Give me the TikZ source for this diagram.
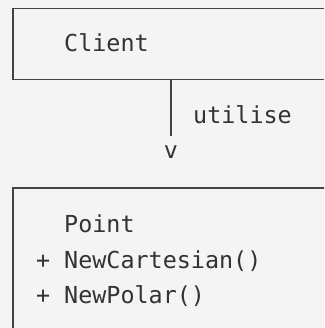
\documentclass[tikz,border=0pt]{standalone}
\usepackage{fontspec}
\setmonofont{DejaVu Sans Mono}
\definecolor{bg}{HTML}{F4F4F4}
\definecolor{ink}{HTML}{333333}
\definecolor{edge}{HTML}{444444}
\begin{document}
\begin{tikzpicture}[x=1pt,y=-1pt,
  umlbox/.style={draw=edge,line width=1.5pt,fill=bg,anchor=north west,inner sep=0pt,minimum width=340pt},
  mono/.style={font=\ttfamily\fontsize{23.4}{28}\selectfont,text=ink,inner sep=0pt,anchor=base west},
  link/.style={draw=edge,line width=1.5pt}]
  \clip (0,0) rectangle (324,328);
  \fill[bg] (0,0) rectangle (324,328);
  % class boxes (open to the right and below)
  \node[umlbox,minimum height=71pt] (client) at (12,8) {};
  \node[umlbox,minimum height=160pt] (point) at (12,187) {};
  % class names and operations
  \node[mono] (clientname) at (64,52) {Client};
  \node[mono] (pointname) at (64,232) {Point};
  \node[mono] (plus1) at (36,268) {+};
  \node[mono] (op1) at (64,268) {NewCartesian()};
  \node[mono] (plus2) at (36,303) {+};
  \node[mono] (op2) at (64,303) {NewPolar()};
  % dependency drawn as a plain line ending in a text "v"
  \coordinate (linkend) at (171,136);
  \draw[link] (client.south -| linkend) -- (linkend);
  \node[mono,anchor=base] (head) at (171,159) {v};
  \node[mono] (label) at (193,124) {utilise};
\end{tikzpicture}
\end{document}
